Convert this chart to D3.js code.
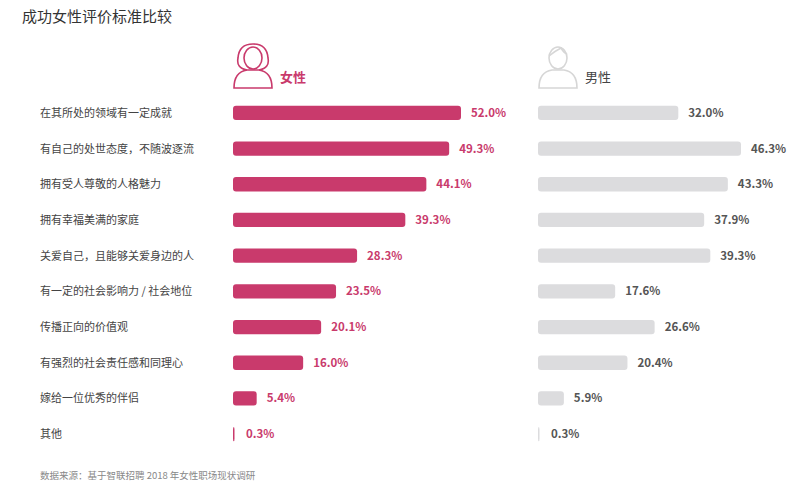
<!DOCTYPE html>
<html><head><meta charset="utf-8">
<script src="https://cdn.jsdelivr.net/npm/d3@7"></script>
<style>body{margin:0;background:#fff;font-family:"Noto Sans CJK SC",sans-serif}</style>
</head><body><svg id="chart" width="800" height="484"></svg>
<script>
const categories = ['在其所处的领域有一定成就','有自己的处世态度，不随波逐流','拥有受人尊敬的人格魅力','拥有幸福美满的家庭','关爱自己，且能够关爱身边的人','有一定的社会影响力 / 社会地位','传播正向的价值观','有强烈的社会责任感和同理心','嫁给一位优秀的伴侣','其他']
const female = [52.0,49.3,44.1,39.3,28.3,23.5,20.1,16.0,5.4,0.3]
const male = [32.0,46.3,43.3,37.9,39.3,17.6,26.6,20.4,5.9,0.3]

const pink = '#c93a6c', grey = '#dcdcde'
const svg = d3.select('#chart')

const y = d3.scaleBand().domain(categories).range([95,452]).paddingInner(0.6).paddingOuter(0.3)
const xF = d3.scaleLinear().domain([0,52]).range([233,461])
const xM = d3.scaleLinear().domain([0,52]).range([538,766])

svg.append('text').text('成功女性评价标准比较').attr('x',22).attr('y',22)
	.attr('font-size',15).attr('fill','#333')

svg.selectAll('.cat').data(categories).enter().append('text')
	.text(d=>d).attr('x',40).attr('y',d=>y(d)+y.bandwidth()/2+4)
	.attr('font-size',11).attr('fill','#444')

const drawSide = (vals,x,color,labelColor)=>{
	svg.append('g').selectAll('rect').data(vals).enter().append('rect')
		.attr('x',x(0)).attr('y',(d,i)=>y(categories[i]))
		.attr('width',d=>Math.max(1.5,x(d)-x(0))).attr('height',y.bandwidth())
		.attr('rx',3).attr('fill',color)
	svg.append('g').selectAll('text').data(vals).enter().append('text')
		.text(d=>d.toFixed(1)+'%')
		.attr('x',d=>Math.max(x(d),x(0)+3)+10).attr('y',(d,i)=>y(categories[i])+y.bandwidth()/2+4)
		.attr('font-size',11.5).attr('font-weight','bold').attr('fill',labelColor)
}
drawSide(female,xF,pink,pink)
drawSide(male,xM,grey,'#555')

const icon = (cx,color,hair)=>{
	const g = svg.append('g').attr('fill','none').attr('stroke',color).attr('stroke-width',1.6)
	g.append('path').attr('d',`M${cx-19},88 Q${cx-19},72 ${cx-6},70 L${cx+6},70 Q${cx+19},72 ${cx+19},88 Z`)
	g.append('ellipse').attr('cx',cx).attr('cy',58).attr('rx',9).attr('ry',11)
	if(hair){
		g.append('path').attr('d',`M${cx-6},70 Q${cx-17},68 ${cx-15},58 Q${cx-14},44 ${cx},44 Q${cx+14},44 ${cx+15},58 Q${cx+17},68 ${cx+6},70`)
	}else{
		g.append('path').attr('d',`M${cx-9},56 Q${cx-3},51 ${cx+3},48 Q${cx+6},53 ${cx+9},54`)
	}
}
icon(253,pink,true)
icon(558,'#d6d6d6',false)
svg.append('text').text('女性').attr('x',280).attr('y',82).attr('font-size',13).attr('font-weight','bold').attr('fill',pink)
svg.append('text').text('男性').attr('x',585).attr('y',82).attr('font-size',13).attr('fill','#444')

svg.append('text').text('数据来源：基于智联招聘 2018 年女性职场现状调研').attr('x',40).attr('y',479)
	.attr('font-size',9.5).attr('fill','#888')
</script></body></html>
